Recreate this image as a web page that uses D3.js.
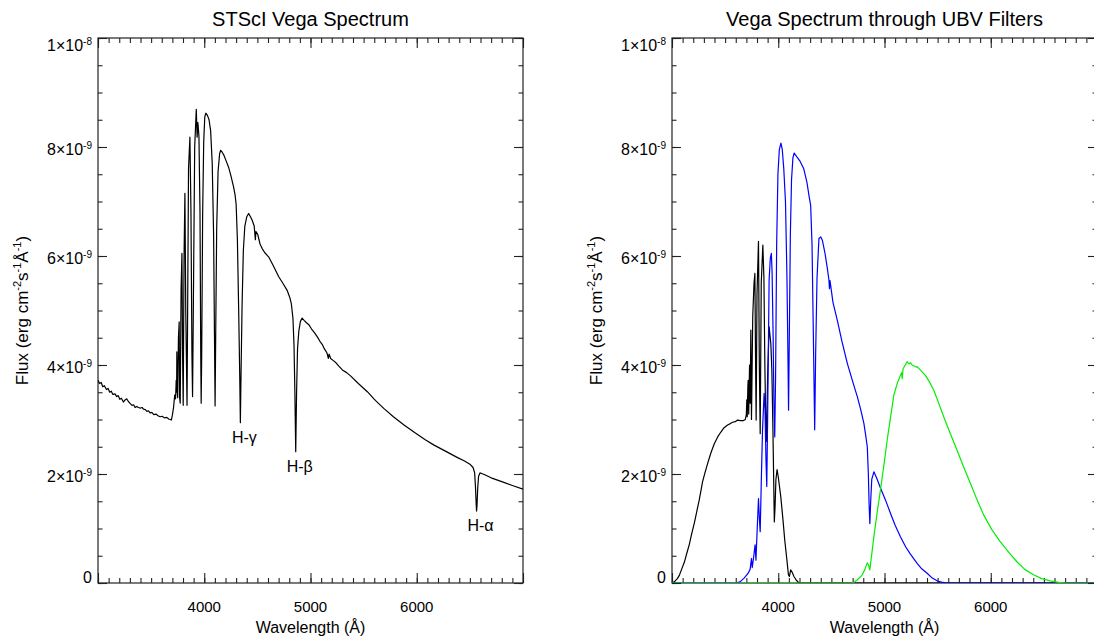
<!DOCTYPE html>
<html>
<head>
<meta charset="utf-8">
<script src="https://cdn.jsdelivr.net/npm/d3@7/dist/d3.min.js"></script>
<style>
body { margin: 0; background: #fff; }
svg text { font-family: "Liberation Sans", Arial, Helvetica, sans-serif; fill: #000; }
</style>
</head>
<body>
<svg id="chart" width="1094" height="639"></svg>
<script>
// Vega spectrum (flux in units of 1e-9 erg cm-2 s-1 A-1)
var vegaWave = [3000, 3015, 3030, 3045, 3060, 3080, 3095, 3110, 3125, 3140, 3160, 3176, 3190, 3205, 3220, 3239, 3255, 3270, 3286, 3300,
    3320, 3335, 3349, 3365, 3380, 3400, 3415, 3428, 3445, 3460, 3475, 3490, 3507, 3525, 3545, 3565, 3585, 3605, 3625, 3648,
    3665, 3680, 3690, 3700, 3711, 3722, 3730, 3736, 3740, 3742, 3746, 3750, 3757, 3764, 3768, 3774, 3782, 3790, 3796, 3802,
    3810, 3818, 3826, 3838, 3852, 3865, 3875, 3884, 3890, 3898, 3910, 3925, 3933, 3940, 3950, 3960, 3967, 3971, 3976, 3985,
    3995, 4005, 4015, 4030, 4045, 4060, 4075, 4088, 4096, 4102, 4108, 4117, 4130, 4145, 4155, 4170, 4185, 4205, 4229, 4250,
    4276, 4290, 4300, 4312, 4324, 4334, 4340, 4346, 4356, 4368, 4382, 4400, 4418, 4435, 4450, 4470, 4481, 4487, 4503, 4525,
    4544, 4570, 4607, 4650, 4701, 4740, 4780, 4805, 4820, 4835, 4845, 4853, 4861, 4869, 4878, 4890, 4905, 4921, 4940, 4960,
    4984, 5010, 5035, 5063, 5090, 5110, 5130, 5155, 5168, 5175, 5190, 5215, 5240, 5267, 5300, 5340, 5377, 5450, 5535, 5610,
    5692, 5780, 5880, 5980, 6080, 6163, 6270, 6384, 6450, 6500, 6530, 6545, 6553, 6560, 6563, 6567, 6574, 6582, 6595, 6610,
    6635, 6700, 6800, 6900, 7000];
var vegaFlux = [3.72, 3.66, 3.68, 3.60, 3.62, 3.55, 3.57, 3.50, 3.52, 3.46, 3.47, 3.42, 3.44, 3.37, 3.39, 3.32, 3.36, 3.38, 3.33, 3.30,
    3.26, 3.27, 3.22, 3.24, 3.22, 3.21, 3.22, 3.19, 3.18, 3.15, 3.16, 3.12, 3.13, 3.09, 3.10, 3.07, 3.05, 3.06, 3.03, 3.04,
    3.01, 3.00, 2.99, 3.08, 3.22, 3.45, 3.38, 3.72, 3.50, 4.24, 3.50, 3.40, 4.50, 4.79, 3.40, 3.30, 5.40, 6.05, 4.20, 3.26,
    6.00, 7.15, 5.00, 3.26, 7.60, 8.18, 6.80, 4.20, 3.42, 5.20, 8.00, 8.69, 8.18, 8.45, 8.20, 6.80, 4.20, 3.30, 4.20, 6.80,
    8.10, 8.55, 8.62, 8.58, 8.50, 8.30, 7.70, 6.40, 4.60, 3.25, 4.60, 6.50, 7.55, 7.88, 7.94, 7.90, 7.85, 7.75, 7.63, 7.48,
    7.27, 7.12, 6.95, 6.30, 5.00, 3.80, 2.94, 3.80, 5.10, 6.10, 6.55, 6.72, 6.78, 6.72, 6.66, 6.55, 6.30, 6.45, 6.40, 6.22,
    6.14, 6.06, 5.98, 5.82, 5.62, 5.50, 5.37, 5.24, 5.12, 4.85, 4.35, 3.50, 2.41, 3.50, 4.30, 4.62, 4.80, 4.86, 4.82, 4.78,
    4.74, 4.66, 4.60, 4.52, 4.43, 4.38, 4.30, 4.22, 4.12, 4.20, 4.12, 4.08, 4.04, 3.98, 3.91, 3.86, 3.80, 3.66, 3.51, 3.35,
    3.20, 3.05, 2.90, 2.76, 2.63, 2.53, 2.42, 2.30, 2.24, 2.18, 2.12, 2.02, 1.75, 1.42, 1.32, 1.42, 1.75, 1.96, 2.02, 2.01,
    1.99, 1.93, 1.86, 1.79, 1.72];

// spectrum through U filter (black)
var uWave = [3000, 3022, 3050, 3069, 3090, 3116, 3140, 3162, 3185, 3210, 3235, 3256, 3288, 3310, 3335, 3365, 3397, 3430, 3460, 3490,
    3523, 3545, 3570, 3595, 3617, 3645, 3673, 3690, 3700, 3704, 3708, 3714, 3717, 3722, 3730, 3736, 3742, 3748, 3760, 3772,
    3780, 3786, 3792, 3800, 3814, 3822, 3830, 3840, 3855, 3865, 3874, 3882, 3889, 3900, 3914, 3930, 3940, 3950, 3963, 3970,
    3978, 3989, 4000, 4024, 4045, 4061, 4080, 4096, 4105, 4117, 4130, 4148, 4170, 4195, 7000];
var uFlux = [0.00, 0.02, 0.08, 0.14, 0.25, 0.38, 0.55, 0.70, 0.90, 1.10, 1.33, 1.52, 1.86, 2.02, 2.19, 2.38, 2.55, 2.68, 2.77, 2.85,
    2.90, 2.92, 2.95, 2.96, 2.99, 2.98, 2.98, 3.00, 3.10, 3.36, 3.05, 3.60, 3.72, 3.10, 4.00, 3.30, 4.64, 3.00, 4.90, 5.50,
    5.68, 4.20, 2.99, 5.30, 6.27, 4.00, 2.74, 5.50, 6.20, 5.60, 4.00, 3.00, 2.60, 3.80, 4.70, 4.40, 3.90, 2.80, 1.12, 1.40,
    1.90, 2.08, 1.95, 1.58, 1.15, 0.79, 0.45, 0.15, 0.12, 0.24, 0.20, 0.12, 0.05, 0.00, 0.00];

// spectrum through B filter (blue)
var bWave = [3000, 3600, 3640, 3679, 3717, 3735, 3748, 3755, 3770, 3782, 3790, 3800, 3814, 3822, 3830, 3842, 3852, 3867, 3875, 3884,
    3892, 3900, 3914, 3925, 3935, 3942, 3952, 3960, 3967, 3975, 3985, 3997, 4010, 4025, 4038, 4052, 4068, 4082, 4091, 4097,
    4104, 4114, 4125, 4138, 4150, 4175, 4205, 4240, 4270, 4290, 4305, 4318, 4330, 4343, 4352, 4365, 4383, 4400, 4415, 4440,
    4460, 4477, 4482, 4487, 4515, 4556, 4600, 4650, 4700, 4744, 4775, 4806, 4825, 4838, 4848, 4855, 4862, 4870, 4880, 4900,
    4925, 4963, 5010, 5056, 5100, 5150, 5200, 5244, 5307, 5350, 5401, 5450, 5495, 5550, 5589, 7000];
var bFlux = [0.00, 0.00, 0.02, 0.09, 0.18, 0.25, 0.45, 0.28, 0.50, 0.70, 0.42, 0.90, 1.55, 1.20, 0.94, 2.00, 2.81, 3.48, 3.20, 2.30,
    1.77, 3.00, 5.56, 5.95, 6.05, 5.70, 4.50, 3.20, 2.68, 3.80, 6.20, 7.50, 7.95, 8.07, 7.95, 7.60, 7.00, 5.60, 4.20, 3.17,
    4.50, 6.40, 7.40, 7.80, 7.89, 7.82, 7.74, 7.60, 7.35, 7.10, 6.93, 6.20, 4.60, 2.81, 4.20, 5.60, 6.32, 6.35, 6.29, 6.05,
    5.80, 5.56, 5.40, 5.55, 5.15, 4.82, 4.43, 4.03, 3.70, 3.42, 3.19, 2.93, 2.68, 2.50, 2.00, 1.45, 1.09, 1.50, 1.90, 2.04,
    1.93, 1.74, 1.52, 1.28, 1.06, 0.85, 0.66, 0.53, 0.36, 0.26, 0.18, 0.09, 0.04, 0.01, 0.00, 0.00];

// spectrum through V filter (green)
var vWave = [3000, 4697, 4740, 4791, 4815, 4838, 4850, 4862, 4875, 4900, 4930, 4962, 4995, 5025, 5060, 5088, 5118, 5150, 5162, 5166,
    5175, 5213, 5230, 5245, 5260, 5280, 5300, 5307, 5340, 5385, 5420, 5463, 5510, 5557, 5620, 5682, 5745, 5808, 5870, 5933,
    6010, 6089, 6170, 6246, 6320, 6402, 6480, 6559, 6640, 6716, 7000];
var vFlux = [0.00, 0.00, 0.05, 0.15, 0.25, 0.37, 0.33, 0.24, 0.45, 0.85, 1.28, 1.71, 2.17, 2.62, 3.08, 3.45, 3.65, 3.81, 3.86, 3.75,
    3.93, 4.06, 4.02, 4.04, 4.00, 3.98, 3.96, 3.97, 3.90, 3.81, 3.70, 3.54, 3.30, 3.05, 2.74, 2.44, 2.13, 1.83, 1.53, 1.25,
    0.98, 0.76, 0.56, 0.39, 0.25, 0.15, 0.08, 0.04, 0.01, 0.00, 0.00];

// line labels on the left panel
var lineNames = ["H-\u03b3", "H-\u03b2", "H-\u03b1"];
var lineWave = [4340, 4861, 6563];

// axis ticks
var xMajor = [3000, 4000, 5000, 6000, 7000];
var xLabelled = [4000, 5000, 6000];
var xMinor = d3.range(3000, 7001, 100);
var yMajor = [0, 2, 4, 6, 8, 10];
var yMinor = d3.range(0, 10.01, 0.5);
var yTickBase = ["0", "2\u00d710", "4\u00d710", "6\u00d710", "8\u00d710", "1\u00d710"];
var yTickExp = ["", "-9", "-9", "-9", "-9", "-8"];

var svg = d3.select("#chart");
var W = 425, plotTop = 38, plotBottom = 583;
var axisColor = "#222";

function drawPanel(x0, title, id) {
    var xScale = d3.scaleLinear().domain([3000, 7000]).range([x0, x0 + W]);
    var yScale = d3.scaleLinear().domain([0, 10]).range([plotBottom, plotTop]);

    svg.append("clipPath").attr("id", id)
        .append("rect")
        .attr("x", x0).attr("y", plotTop)
        .attr("width", W).attr("height", plotBottom - plotTop);

    // ticks on all four sides, pointing inward
    var axes = [
        [d3.axisBottom(xScale).tickValues(xMinor).tickSize(-5), "translate(0," + plotBottom + ")"],
        [d3.axisBottom(xScale).tickValues(xMajor).tickSize(-10), "translate(0," + plotBottom + ")"],
        [d3.axisTop(xScale).tickValues(xMinor).tickSize(-5), "translate(0," + plotTop + ")"],
        [d3.axisTop(xScale).tickValues(xMajor).tickSize(-10), "translate(0," + plotTop + ")"],
        [d3.axisLeft(yScale).tickValues(yMinor).tickSize(-4.5), "translate(" + x0 + ",0)"],
        [d3.axisLeft(yScale).tickValues(yMajor).tickSize(-9), "translate(" + x0 + ",0)"],
        [d3.axisRight(yScale).tickValues(yMinor).tickSize(-4.5), "translate(" + (x0 + W) + ",0)"],
        [d3.axisRight(yScale).tickValues(yMajor).tickSize(-9), "translate(" + (x0 + W) + ",0)"]
    ];
    axes.forEach(function(a) {
        var g = svg.append("g")
            .attr("transform", a[1])
            .attr("color", axisColor)
            .call(a[0].tickFormat(""));
        g.select(".domain").remove();
        g.selectAll("line").attr("stroke-width", 1.1);
    });

    // frame
    svg.append("rect")
        .attr("x", x0).attr("y", plotTop)
        .attr("width", W).attr("height", plotBottom - plotTop)
        .attr("fill", "none")
        .attr("stroke", axisColor)
        .attr("stroke-width", 1.2);

    // x tick labels
    svg.selectAll(".xl" + id)
        .data(xLabelled)
        .enter()
        .append("text")
        .attr("x", function(d) { return xScale(d); })
        .attr("y", 612)
        .attr("text-anchor", "middle")
        .attr("font-size", 15)
        .text(function(d) { return d; });

    // y tick labels with exponents
    yMajor.forEach(function(v, i) {
        var y = yScale(v);
        if (i == yMajor.length - 1) y = y + 13;
        else if (i > 0) y = y + 8;
        var t = svg.append("text")
            .attr("x", x0 - 6)
            .attr("y", y)
            .attr("text-anchor", "end")
            .attr("font-size", 16);
        t.append("tspan").text(yTickBase[i]);
        if (yTickExp[i] != "") {
            t.append("tspan").attr("font-size", 10).attr("dy", -6).text(yTickExp[i]);
        }
    });

    // title
    svg.append("text")
        .attr("x", x0 + W / 2)
        .attr("y", 26)
        .attr("text-anchor", "middle")
        .attr("font-size", 20)
        .text(title);

    // x label
    svg.append("text")
        .attr("x", x0 + W / 2)
        .attr("y", 633)
        .attr("text-anchor", "middle")
        .attr("font-size", 16)
        .text("Wavelength (\u00c5)");

    // y label
    var yl = svg.append("text")
        .attr("transform", "translate(" + (x0 - 70) + "," + ((plotTop + plotBottom) / 2) + ") rotate(-90)")
        .attr("text-anchor", "middle")
        .attr("font-size", 17);
    yl.append("tspan").text("Flux (erg cm");
    yl.append("tspan").attr("font-size", 11).attr("dy", -7).text("-2");
    yl.append("tspan").attr("dy", 7).text("s");
    yl.append("tspan").attr("font-size", 11).attr("dy", -7).text("-1");
    yl.append("tspan").attr("dy", 7).text("\u00c5");
    yl.append("tspan").attr("font-size", 11).attr("dy", -7).text("-1");
    yl.append("tspan").attr("dy", 7).text(")");

    return { x: xScale, y: yScale };
}

function drawLine(s, wave, flux, color, id) {
    var line = d3.line()
        .x(function(d) { return s.x(d[0]); })
        .y(function(d) { return s.y(d[1]); });
    svg.append("path")
        .attr("d", line(d3.zip(wave, flux)))
        .attr("clip-path", "url(#" + id + ")")
        .attr("fill", "none")
        .attr("stroke", color)
        .attr("stroke-width", 1.2)
        .attr("stroke-linejoin", "round");
}

// Left panel
var left = drawPanel(98, "STScI Vega Spectrum", "clipL");
drawLine(left, vegaWave, vegaFlux, "#000", "clipL");

lineWave.forEach(function(w, i) {
    // label sits just under the bottom of the absorption line
    var dip = d3.min(vegaWave.map(function(v, j) { return Math.abs(v - w) < 15 ? vegaFlux[j] : 99; }));
    svg.append("text")
        .attr("x", left.x(w) + 4)
        .attr("y", left.y(dip) + 20)
        .attr("text-anchor", "middle")
        .attr("font-size", 16)
        .text(lineNames[i]);
});

// Right panel
var right = drawPanel(672, "Vega Spectrum through UBV Filters", "clipR");
drawLine(right, uWave, uFlux, "#000", "clipR");
drawLine(right, bWave, bFlux, "#0000ff", "clipR");
drawLine(right, vWave, vFlux, "#00ee00", "clipR");
</script>
</body>
</html>
